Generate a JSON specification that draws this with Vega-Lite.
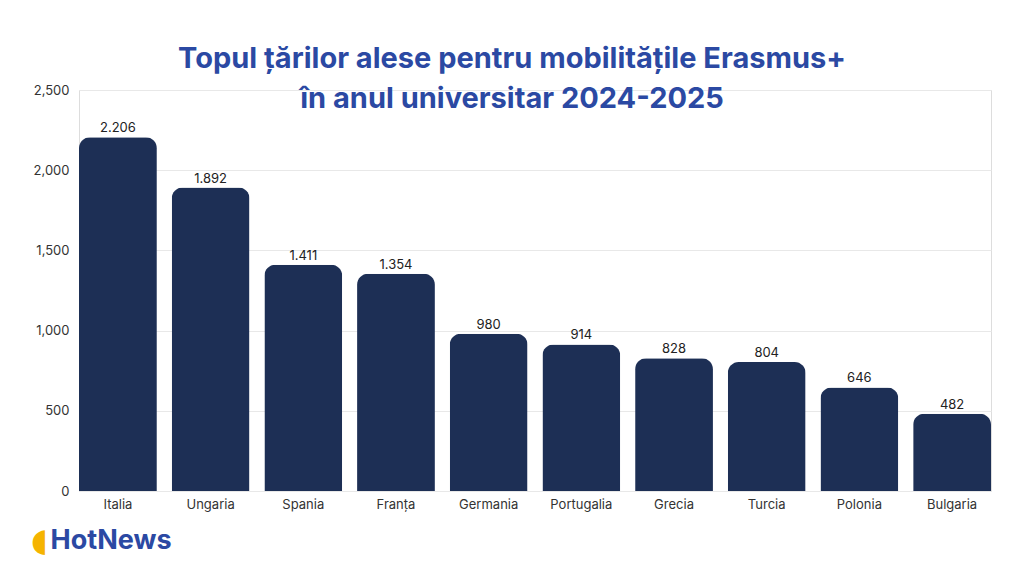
{
  "$schema": "https://vega.github.io/schema/vega-lite/v6.json",
  "width": 912,
  "height": 401,
  "autosize": "none",
  "padding": {"left": 79, "top": 90, "right": 33, "bottom": 85},
  "background": "white",
  "title": {
    "text": ["Topul țărilor alese pentru mobilitățile Erasmus+", "în anul universitar 2024-2025"],
    "font": "Inter",
    "fontSize": 29,
    "fontWeight": 700,
    "color": "#2b49a3",
    "lineHeight": 40,
    "anchor": "middle",
    "dx": -23,
    "offset": -30
  },
  "data": {
    "values": [
      {"tara": "Italia", "mobilitati": 2206},
      {"tara": "Ungaria", "mobilitati": 1892},
      {"tara": "Spania", "mobilitati": 1411},
      {"tara": "Franța", "mobilitati": 1354},
      {"tara": "Germania", "mobilitati": 980},
      {"tara": "Portugalia", "mobilitati": 914},
      {"tara": "Grecia", "mobilitati": 828},
      {"tara": "Turcia", "mobilitati": 804},
      {"tara": "Polonia", "mobilitati": 646},
      {"tara": "Bulgaria", "mobilitati": 482}
    ]
  },
  "transform": [
    {"calculate": "replace(format(datum.mobilitati, ',d'), ',', '.')", "as": "eticheta"}
  ],
  "encoding": {
    "x": {
      "field": "tara",
      "type": "nominal",
      "sort": null,
      "scale": {"paddingInner": 0.16, "paddingOuter": 0.0},
      "axis": {
        "title": "HotNews",
        "titleFont": "Inter",
        "titleFontSize": 27,
        "titleFontWeight": 700,
        "titleColor": "#2b49a3",
        "titleAnchor": "start",
        "titleAlign": "left",
        "titleBaseline": "middle",
        "titleX": -29,
        "titleY": 49,
        "labelAngle": 0,
        "labelFont": "Inter",
        "labelFontSize": 13,
        "labelColor": "#333333",
        "labelPadding": 7,
        "ticks": false,
        "domain": false
      }
    },
    "y": {
      "field": "mobilitati",
      "type": "quantitative",
      "scale": {"domain": [0, 2500]},
      "axis": {
        "title": "◖",
        "titleColor": "#f5b400",
        "titleFont": "DejaVu Sans",
        "titleFontSize": 32,
        "titleFontWeight": 400,
        "titleAngle": 0,
        "titleAlign": "center",
        "titleBaseline": "middle",
        "titleX": -40,
        "titleY": 450,
        "values": [0, 500, 1000, 1500, 2000, 2500],
        "format": ",d",
        "labelFont": "Inter",
        "labelFontSize": 13,
        "labelColor": "#333333",
        "labelPadding": 10,
        "ticks": false,
        "domain": false,
        "gridColor": "#e8e8e8"
      }
    }
  },
  "layer": [
    {
      "mark": {"type": "bar", "color": "#1d2f55", "cornerRadiusEnd": 11}
    },
    {
      "mark": {
        "type": "text",
        "baseline": "bottom",
        "dy": -2,
        "font": "Inter",
        "fontSize": 13,
        "color": "#222222"
      },
      "encoding": {"text": {"field": "eticheta"}}
    }
  ]
}
